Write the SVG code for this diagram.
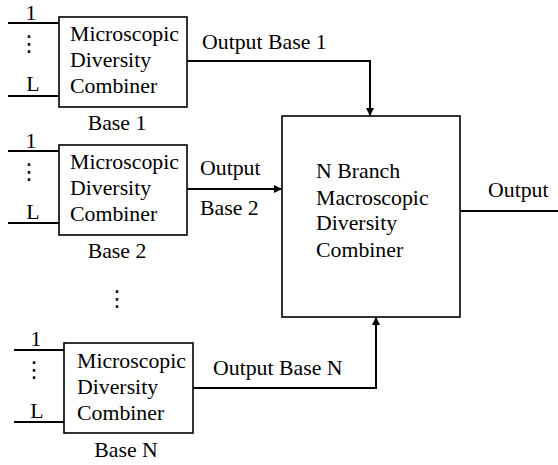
<svg xmlns="http://www.w3.org/2000/svg" width="558" height="465" viewBox="0 0 558 465">
<defs>
<marker id="arr" viewBox="0 0 10 10" refX="10" refY="5" markerWidth="4" markerHeight="4" orient="auto" markerUnits="strokeWidth">
<path d="M0,0 L10,5 L0,10 z" fill="#000"/>
</marker>
<style>
.box{fill:#fff;stroke:#000;stroke-width:1.6}
.ln{fill:none;stroke:#000;stroke-width:2}
.t{font-family:"Liberation Serif","Times New Roman",serif;font-size:21.8px;fill:#000}
.d{font-family:"DejaVu Sans",sans-serif;font-size:22px;fill:#000}
</style>
</defs>
<rect width="558" height="465" fill="#fff"/>
<g id="connectors">
<polyline class="ln" points="187,61 370,61 370,116" marker-end="url(#arr)"/>
<line class="ln" x1="187" y1="189" x2="282" y2="189" marker-end="url(#arr)"/>
<polyline class="ln" points="193,388 376,388 376,317" marker-end="url(#arr)"/>
<line class="ln" x1="460" y1="211" x2="558" y2="211"/>
<text class="t" x="202" y="49">Output Base 1</text>
<text class="t" x="200" y="175">Output</text>
<text class="t" x="200" y="215">Base 2</text>
<text class="t" x="213" y="375">Output Base N</text>
<text class="t" x="488" y="197">Output</text>
</g>
<g id="base1">
<line class="ln" x1="8" y1="23" x2="59" y2="23"/>
<line class="ln" x1="8" y1="96" x2="59" y2="96"/>
<text class="t" x="31" y="20" text-anchor="middle">1</text>
<text class="d" x="29" y="51" text-anchor="middle">⋮</text>
<text class="t" x="33" y="91" text-anchor="middle">L</text>
<rect class="box" x="59" y="17" width="128" height="90"/>
<text class="t" x="70" y="41">Microscopic</text>
<text class="t" x="70" y="67">Diversity</text>
<text class="t" x="70" y="93">Combiner</text>
<text class="t" x="117" y="130" text-anchor="middle">Base 1</text>
</g>
<g id="base2">
<line class="ln" x1="8" y1="151" x2="59" y2="151"/>
<line class="ln" x1="8" y1="223" x2="59" y2="223"/>
<text class="t" x="31" y="148" text-anchor="middle">1</text>
<text class="d" x="29" y="179" text-anchor="middle">⋮</text>
<text class="t" x="33" y="219" text-anchor="middle">L</text>
<rect class="box" x="59" y="145" width="128" height="90"/>
<text class="t" x="70" y="169">Microscopic</text>
<text class="t" x="70" y="195">Diversity</text>
<text class="t" x="70" y="221">Combiner</text>
<text class="t" x="117" y="258" text-anchor="middle">Base 2</text>
</g>
<g id="ellipsis">
<text class="d" x="117" y="306" text-anchor="middle">⋮</text>
</g>
<g id="baseN">
<line class="ln" x1="14" y1="350" x2="64" y2="350"/>
<line class="ln" x1="14" y1="422" x2="64" y2="422"/>
<text class="t" x="36" y="346" text-anchor="middle">1</text>
<text class="d" x="34" y="377" text-anchor="middle">⋮</text>
<text class="t" x="37" y="418" text-anchor="middle">L</text>
<rect class="box" x="64" y="343" width="129" height="90"/>
<text class="t" x="77" y="368">Microscopic</text>
<text class="t" x="77" y="394">Diversity</text>
<text class="t" x="77" y="420">Combiner</text>
<text class="t" x="126" y="457" text-anchor="middle">Base N</text>
</g>
<g id="macro">
<rect class="box" x="282" y="116" width="178" height="201"/>
<text class="t" x="316" y="178">N Branch</text>
<text class="t" x="316" y="205">Macroscopic</text>
<text class="t" x="316" y="230">Diversity</text>
<text class="t" x="316" y="257">Combiner</text>
</g>
</svg>
